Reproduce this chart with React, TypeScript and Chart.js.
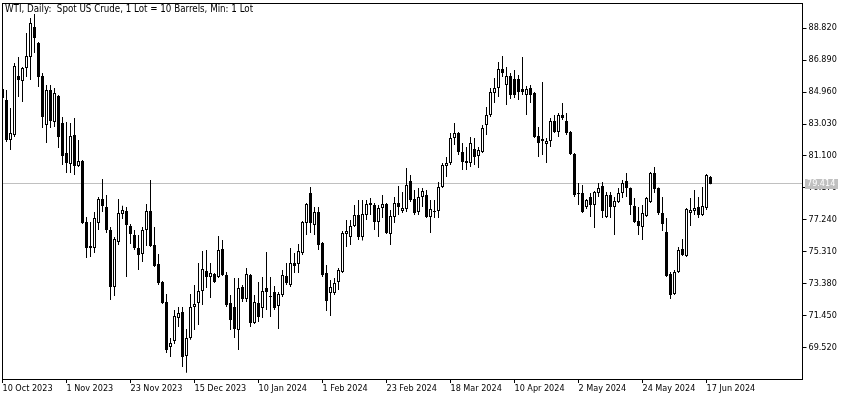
import React, { useEffect, useRef } from "react";
import { Chart, registerables } from "chart.js";

Chart.register(...registerables);

const titleText = "WTI, Daily:  Spot US Crude, 1 Lot = 10 Barrels, Min: 1 Lot";

const dates = [
  "2023-10-10","2023-10-11","2023-10-12","2023-10-13","2023-10-16","2023-10-17","2023-10-18","2023-10-19","2023-10-20","2023-10-23",
  "2023-10-24","2023-10-25","2023-10-26","2023-10-27","2023-10-30","2023-10-31","2023-11-01","2023-11-02","2023-11-03","2023-11-06",
  "2023-11-07","2023-11-08","2023-11-09","2023-11-10","2023-11-13","2023-11-14","2023-11-15","2023-11-16","2023-11-17","2023-11-20",
  "2023-11-21","2023-11-22","2023-11-23","2023-11-24","2023-11-27","2023-11-28","2023-11-29","2023-11-30","2023-12-01","2023-12-04",
  "2023-12-05","2023-12-06","2023-12-07","2023-12-08","2023-12-11","2023-12-12","2023-12-13","2023-12-14","2023-12-15","2023-12-18",
  "2023-12-19","2023-12-20","2023-12-21","2023-12-22","2023-12-26","2023-12-27","2023-12-28","2023-12-29","2024-01-02","2024-01-03",
  "2024-01-04","2024-01-05","2024-01-08","2024-01-09","2024-01-10","2024-01-11","2024-01-12","2024-01-15","2024-01-16","2024-01-17",
  "2024-01-18","2024-01-19","2024-01-22","2024-01-23","2024-01-24","2024-01-25","2024-01-26","2024-01-29","2024-01-30","2024-01-31",
  "2024-02-01","2024-02-02","2024-02-05","2024-02-06","2024-02-07","2024-02-08","2024-02-09","2024-02-12","2024-02-13","2024-02-14",
  "2024-02-15","2024-02-16","2024-02-19","2024-02-20","2024-02-21","2024-02-22","2024-02-23","2024-02-26","2024-02-27","2024-02-28",
  "2024-02-29","2024-03-01","2024-03-04","2024-03-05","2024-03-06","2024-03-07","2024-03-08","2024-03-11","2024-03-12","2024-03-13",
  "2024-03-14","2024-03-15","2024-03-18","2024-03-19","2024-03-20","2024-03-21","2024-03-22","2024-03-25","2024-03-26","2024-03-27",
  "2024-03-28","2024-04-01","2024-04-02","2024-04-03","2024-04-04","2024-04-05","2024-04-08","2024-04-09","2024-04-10","2024-04-11",
  "2024-04-12","2024-04-15","2024-04-16","2024-04-17","2024-04-18","2024-04-19","2024-04-22","2024-04-23","2024-04-24","2024-04-25",
  "2024-04-26","2024-04-29","2024-04-30","2024-05-01","2024-05-02","2024-05-03","2024-05-06","2024-05-07","2024-05-08","2024-05-09",
  "2024-05-10","2024-05-13","2024-05-14","2024-05-15","2024-05-16","2024-05-17","2024-05-20","2024-05-21","2024-05-22","2024-05-23",
  "2024-05-24","2024-05-27","2024-05-28","2024-05-29","2024-05-30","2024-05-31","2024-06-03","2024-06-04","2024-06-05","2024-06-06",
  "2024-06-07","2024-06-10","2024-06-11","2024-06-12","2024-06-13","2024-06-14","2024-06-17","2024-06-18"
];

const opens = [
  85.14, 84.48, 82.06, 82.37, 85.92, 85.62, 86.41, 87.07, 88.88, 87.92,
  85.92, 82.97, 85.08, 83.15, 84.72, 83.09, 81.28, 80.62, 82.37, 80.50,
  80.80, 77.12, 75.55, 75.55, 77.06, 78.51, 78.02, 76.64, 73.20, 75.91,
  77.60, 77.78, 76.88, 76.34, 75.55, 75.19, 76.64, 77.78, 75.73, 74.59,
  73.50, 72.30, 69.58, 69.94, 71.33, 71.69, 69.04, 70.13, 71.99, 72.24,
  72.96, 74.17, 73.80, 73.98, 73.80, 75.49, 73.92, 72.24, 72.00, 70.61,
  73.20, 72.48, 73.92, 71.03, 72.24, 71.93, 73.14, 72.66, 72.90, 72.06,
  72.72, 73.86, 73.32, 74.65, 74.59, 75.25, 77.06, 78.87, 76.94, 77.72,
  75.85, 74.05, 72.84, 72.84, 73.50, 74.11, 76.40, 76.22, 76.88, 77.54,
  76.22, 77.54, 78.26, 78.14, 77.12, 77.96, 78.20, 76.40, 77.42, 78.26,
  77.78, 77.90, 79.59, 78.51, 77.72, 78.63, 78.75, 77.42, 77.78, 77.78,
  79.23, 80.50, 80.68, 82.19, 82.49, 81.34, 80.80, 80.68, 81.52, 81.10,
  81.34, 82.97, 83.57, 84.90, 85.20, 86.35, 85.38, 85.92, 85.74, 85.74,
  85.14, 84.78, 85.20, 84.90, 82.31, 82.12, 81.82, 82.00, 83.21, 82.55,
  83.57, 83.21, 82.55, 81.22, 78.87, 78.87, 78.02, 78.63, 78.14, 78.87,
  79.29, 77.42, 78.75, 78.02, 78.33, 78.87, 79.59, 79.17, 78.08, 77.18,
  76.82, 77.48, 78.33, 80.07, 79.17, 77.66, 76.52, 73.98, 72.78, 74.11,
  75.49, 75.07, 77.66, 77.78, 78.02, 77.54, 77.96, 79.83
];

const highs = [
  85.30, 85.08, 83.99, 86.71, 87.07, 86.47, 88.52, 89.42, 89.66, 87.98,
  86.10, 85.38, 85.38, 85.20, 84.78, 83.45, 83.15, 83.09, 83.39, 82.06,
  80.86, 77.42, 77.12, 77.72, 78.63, 79.71, 78.75, 76.82, 76.22, 78.51,
  78.10, 78.02, 77.00, 76.64, 76.34, 76.82, 78.20, 79.65, 76.82, 75.19,
  73.56, 72.78, 70.13, 71.81, 71.99, 71.99, 70.67, 72.78, 73.32, 74.65,
  75.37, 75.43, 74.65, 74.05, 76.28, 76.04, 74.10, 72.72, 73.74, 73.74,
  73.32, 74.35, 73.98, 72.72, 73.50, 73.80, 75.31, 73.80, 73.26, 72.90,
  74.23, 74.65, 75.55, 75.25, 75.79, 77.18, 78.26, 79.23, 78.02, 78.02,
  75.91, 74.53, 73.62, 73.74, 74.35, 76.58, 77.24, 77.24, 78.14, 78.45,
  78.45, 78.45, 78.57, 78.26, 78.14, 78.75, 78.26, 77.84, 78.63, 79.29,
  78.93, 80.38, 79.95, 79.05, 79.17, 79.17, 79.05, 78.45, 78.45, 79.53,
  80.68, 81.04, 82.49, 83.09, 82.55, 81.88, 81.64, 82.25, 82.19, 81.64,
  82.97, 84.05, 85.20, 85.80, 86.77, 87.13, 86.47, 86.10, 86.28, 85.98,
  87.07, 85.32, 85.38, 84.96, 82.85, 85.56, 82.19, 83.39, 83.57, 83.69,
  84.30, 83.69, 82.61, 81.28, 79.47, 79.35, 78.51, 78.87, 78.99, 79.47,
  79.53, 78.93, 78.93, 78.63, 79.17, 79.65, 80.07, 79.20, 78.57, 78.02,
  78.14, 78.63, 80.13, 80.44, 79.20, 78.63, 77.36, 74.11, 74.23, 75.61,
  76.10, 77.96, 78.57, 79.05, 78.63, 79.23, 80.01, 79.89
];

const lows = [
  84.30, 81.94, 81.46, 82.25, 84.66, 84.36, 85.86, 85.68, 87.31, 85.26,
  82.79, 81.88, 82.79, 82.85, 81.58, 80.56, 80.07, 80.07, 79.95, 80.44,
  77.00, 74.95, 75.01, 75.25, 76.64, 77.72, 76.46, 72.42, 72.66, 75.73,
  77.30, 73.80, 75.79, 75.43, 74.23, 74.71, 75.67, 75.61, 74.41, 73.32,
  72.18, 69.22, 68.98, 69.76, 70.79, 68.38, 68.02, 70.01, 70.61, 70.91,
  72.12, 73.14, 72.54, 73.44, 73.74, 73.86, 71.99, 70.61, 70.13, 69.40,
  72.30, 72.30, 70.79, 70.97, 71.09, 71.33, 71.81, 71.39, 71.81, 70.67,
  72.60, 73.32, 73.20, 74.05, 74.05, 75.13, 76.34, 76.46, 76.34, 75.43,
  73.80, 71.75, 71.45, 72.72, 73.02, 74.05, 75.61, 75.73, 76.82, 76.04,
  76.00, 77.24, 77.54, 76.64, 76.22, 77.36, 76.40, 75.73, 77.06, 77.54,
  77.66, 77.72, 78.33, 77.54, 77.54, 78.02, 77.36, 76.46, 77.36, 77.36,
  79.17, 79.83, 80.56, 81.76, 81.16, 80.26, 80.26, 80.44, 80.56, 80.38,
  81.28, 82.37, 83.45, 84.30, 84.66, 85.86, 84.18, 84.54, 84.60, 84.48,
  84.78, 83.57, 84.30, 82.19, 81.04, 81.16, 80.68, 81.64, 82.49, 82.25,
  83.27, 82.37, 81.16, 78.63, 78.14, 77.66, 77.90, 77.42, 76.76, 78.63,
  77.36, 77.36, 77.36, 76.34, 78.27, 78.57, 78.63, 77.54, 77.06, 76.34,
  76.04, 77.42, 78.27, 78.87, 77.54, 76.58, 73.80, 72.48, 72.72, 74.05,
  75.07, 75.01, 76.88, 77.54, 77.36, 77.48, 77.84, 79.40
];

const closes = [
  84.60, 82.06, 82.49, 86.53, 85.68, 86.41, 87.13, 89.12, 88.22, 85.86,
  83.45, 85.08, 83.21, 84.90, 82.25, 81.10, 80.68, 82.31, 80.50, 80.80,
  77.06, 75.55, 75.67, 77.36, 78.51, 78.08, 76.64, 73.20, 76.10, 77.66,
  77.84, 76.94, 76.40, 75.55, 75.13, 76.64, 77.78, 75.67, 74.47, 73.44,
  72.24, 69.40, 69.82, 71.45, 71.63, 68.98, 70.13, 71.99, 72.18, 72.96,
  74.29, 73.80, 74.05, 73.50, 75.43, 73.92, 72.12, 71.21, 70.67, 73.14,
  72.48, 73.98, 71.03, 72.30, 71.39, 72.96, 72.90, 72.60, 71.93, 72.78,
  73.92, 73.44, 74.65, 74.47, 75.37, 77.12, 78.20, 77.06, 77.72, 75.73,
  73.92, 72.36, 73.20, 73.44, 74.23, 76.46, 76.58, 76.88, 77.54, 76.22,
  77.60, 78.20, 78.14, 77.12, 77.96, 78.20, 76.46, 77.48, 78.26, 78.02,
  77.96, 79.35, 78.45, 77.66, 78.63, 78.99, 77.42, 77.90, 77.72, 79.23,
  80.56, 80.68, 82.19, 82.49, 81.34, 80.74, 80.68, 81.88, 81.04, 81.46,
  82.79, 83.57, 84.96, 85.20, 86.35, 86.10, 85.92, 84.78, 84.78, 84.96,
  84.96, 85.14, 84.78, 82.25, 81.88, 82.00, 82.00, 83.21, 82.55, 83.57,
  83.39, 82.49, 81.22, 78.75, 78.81, 77.72, 78.45, 78.14, 78.93, 79.17,
  77.78, 78.75, 78.02, 78.39, 78.87, 79.47, 79.17, 78.14, 77.12, 76.88,
  77.66, 78.57, 80.07, 79.11, 77.66, 77.00, 73.86, 72.72, 74.11, 75.43,
  75.13, 77.90, 77.84, 77.96, 77.54, 78.08, 79.95, 79.414
];

const xTickDates = [
  "2023-10-10","2023-11-01","2023-11-23","2023-12-15","2024-01-10","2024-02-01",
  "2024-02-23","2024-03-18","2024-04-10","2024-05-02","2024-05-24","2024-06-17"
];
const xTickLabels = [
  "10 Oct 2023","1 Nov 2023","23 Nov 2023","15 Dec 2023","10 Jan 2024","1 Feb 2024",
  "23 Feb 2024","18 Mar 2024","10 Apr 2024","2 May 2024","24 May 2024","17 Jun 2024"
];
const yTicks = [69.52, 71.45, 73.38, 75.31, 77.24, 79.17, 81.1, 83.03, 84.96, 86.89, 88.82];
const currentPrice = 79.414;

const Y_MIN = 67.65;
const Y_MAX = 90.328;
const EMPTY_SLOTS = 23; // right-hand chart shift (empty bar slots)

const FONT = "'DejaVu Sans Condensed', 'Liberation Sans', sans-serif";
const PRICE_LINE = "#C0C0C0";

const overlayPlugin = {
  id: "mtOverlay",
  beforeDatasetsDraw(chart: any) {
    const { ctx, chartArea: a, scales } = chart;
    const py = Math.floor(scales.y.getPixelForValue(currentPrice)) + 0.5;
    ctx.save();
    ctx.strokeStyle = PRICE_LINE;
    ctx.lineWidth = 1;
    ctx.beginPath();
    ctx.moveTo(Math.floor(a.left), py);
    ctx.lineTo(Math.floor(a.right), py);
    ctx.stroke();
    ctx.restore();
  },
  afterDraw(chart: any) {
    const { ctx, chartArea: a, scales } = chart;
    const l = Math.floor(a.left);
    const r = Math.floor(a.right);
    const t = Math.floor(a.top);
    const b = Math.floor(a.bottom);
    ctx.save();
    ctx.strokeStyle = "#000";
    ctx.lineWidth = 1;
    ctx.strokeRect(l + 0.5, t + 0.5, r - l, b - t);
    const py = Math.floor(scales.y.getPixelForValue(currentPrice));
    ctx.fillStyle = PRICE_LINE;
    ctx.fillRect(r + 3, py - 4, 33, 10);
    ctx.fillStyle = "#fff";
    ctx.font = `9px ${FONT}`;
    ctx.textBaseline = "middle";
    ctx.textAlign = "left";
    ctx.fillText(currentPrice.toFixed(3), r + 5, py + 1);
    ctx.restore();
  },
};

export default function App() {
  const ref = useRef<HTMLCanvasElement>(null);

  useEffect(() => {
    const canvas = ref.current;
    if (!canvas) return;
    const labels = [...dates, ...new Array(EMPTY_SLOTS).fill("")];
    const tickIdx = xTickDates.map((d) => dates.indexOf(d));

    const chart = new Chart(canvas, {
      type: "bar",
      data: {
        labels,
        datasets: [
          {
            label: "body",
            data: opens.map((o, i) => [o, closes[i]]) as any,
            barThickness: 3,
            borderWidth: 1,
            borderColor: "#000",
            backgroundColor: (c: any) =>
              c.dataIndex !== undefined && closes[c.dataIndex] >= opens[c.dataIndex] ? "#fff" : "#000",
            borderSkipped: false,
            inflateAmount: 0,
            grouped: false,
          } as any,
          {
            label: "wick",
            data: lows.map((lo, i) => [lo, highs[i]]) as any,
            barThickness: 1,
            borderWidth: 0,
            backgroundColor: "#000",
            inflateAmount: 0,
            grouped: false,
          } as any,
        ],
      },
      options: {
        responsive: false,
        animation: false,
        devicePixelRatio: 1,
        events: [],
        layout: { padding: { left: 2.5, top: 3, right: 0, bottom: 0 } },
        plugins: {
          legend: { display: false },
          tooltip: { enabled: false },
          title: { display: false },
        },
        scales: {
          x: {
            type: "category",
            offset: false,
            grid: {
              display: true,
              drawOnChartArea: false,
              drawTicks: true,
              tickLength: 4,
              color: "#000",
              offset: false,
            },
            border: { display: false },
            ticks: {
              autoSkip: false,
              maxRotation: 0,
              minRotation: 0,
              align: "start",
              padding: 0,
              color: "#000",
              font: { family: FONT, size: 9 },
              callback: (v: any) => {
                const j = tickIdx.indexOf(Number(v));
                return j >= 0 ? xTickLabels[j] : "";
              },
            },
            afterBuildTicks: (s: any) => {
              s.ticks = tickIdx.map((v) => ({ value: v }));
            },
            afterFit: (s: any) => {
              s.height = 21;
              s.paddingLeft = 0;
              s.paddingRight = 0;
            },
          } as any,
          y: {
            type: "linear",
            position: "right",
            min: Y_MIN,
            max: Y_MAX,
            grid: { drawOnChartArea: false, drawTicks: true, tickLength: 4, color: "#000" },
            border: { display: false },
            ticks: {
              padding: 2,
              color: "#000",
              font: { family: FONT, size: 9 },
              callback: (v: any) => Number(v).toFixed(3),
            },
            afterBuildTicks: (s: any) => {
              s.ticks = yTicks.map((v) => ({ value: v }));
            },
            afterFit: (s: any) => {
              s.width = 47.5;
              s.paddingTop = 0;
              s.paddingBottom = 0;
            },
          } as any,
        },
      },
      plugins: [overlayPlugin],
    });
    return () => chart.destroy();
  }, []);

  return (
    <div style={{ position: "fixed", left: 0, top: 0, width: 850, height: 400, background: "#fff" }}>
      <canvas ref={ref} width={850} height={400} style={{ display: "block" }} />
      <div
        style={{
          position: "absolute",
          left: 5,
          top: 3,
          font: `9.7px ${FONT}`,
          color: "#000",
          whiteSpace: "pre",
          lineHeight: "12px",
        }}
      >
        {titleText}
      </div>
    </div>
  );
}
